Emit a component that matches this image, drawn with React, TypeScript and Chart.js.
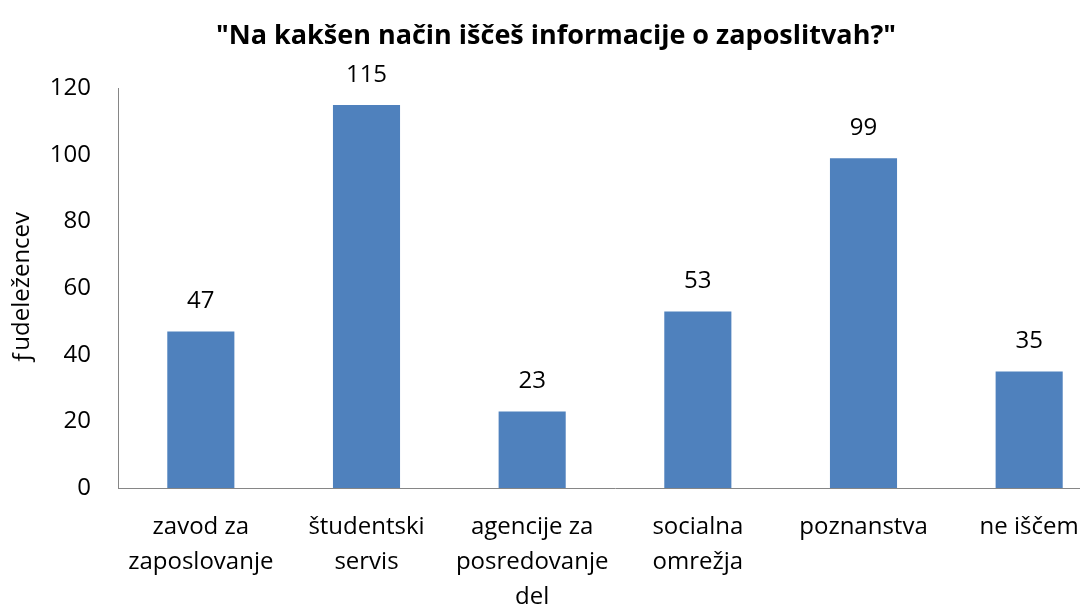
import React, { useEffect, useRef } from "react";
import { Chart, registerables } from "chart.js";

Chart.register(...registerables);

const categories: string[][] = [
  ["zavod za", "zaposlovanje"],
  ["študentski", "servis"],
  ["agencije za", "posredovanje", "del"],
  ["socialna", "omrežja"],
  ["poznanstva"],
  ["ne iščem"],
];
const values: number[] = [47, 115, 23, 53, 99, 35];
const yTicks = { min: 0, max: 120, step: 20 };
const titleText = '"Na kakšen način iščeš informacije o zaposlitvah?"';
const yTitle = "ƒudeležencev";

const FONT = "'Open Sans', Lato, sans-serif";
const SIZE = 24;

const dataLabels = {
  id: "dataLabels",
  afterDatasetsDraw(chart: any) {
    const ctx = chart.ctx;
    const meta = chart.getDatasetMeta(0);
    ctx.save();
    ctx.font = `${SIZE}px ${FONT}`;
    ctx.fillStyle = "#000";
    ctx.textAlign = "center";
    ctx.textBaseline = "middle";
    meta.data.forEach((bar: any, i: number) => {
      ctx.fillText(String(values[i]), bar.x, bar.y - 30);
    });
    ctx.restore();
  },
};

export default function App() {
  const ref = useRef<HTMLCanvasElement>(null);
  useEffect(() => {
    if (!ref.current) return;
    const chart = new Chart(ref.current, {
      type: "bar",
      data: {
        labels: categories,
        datasets: [
          {
            data: values,
            backgroundColor: "#4F81BD",
            borderWidth: 0,
            categoryPercentage: 1,
            barPercentage: 0.405,
          },
        ],
      },
      options: {
        animation: false,
        responsive: false,
        maintainAspectRatio: false,
        layout: { padding: 0 },
        plugins: {
          legend: { display: false },
          tooltip: { enabled: false },
          title: {
            display: true,
            text: titleText,
            color: "#000",
            font: { family: FONT, size: 27, weight: "bold", lineHeight: 1.2 },
            padding: { top: 20, bottom: 36 },
          },
        },
        scales: {
          x: {
            grid: { display: false, drawTicks: false },
            border: { display: true, color: "#868686", width: 1 },
            ticks: {
              color: "#000",
              font: { family: FONT, size: SIZE, lineHeight: 1.46 },
              padding: 22,
              autoSkip: false,
              maxRotation: 0,
              minRotation: 0,
            },
            afterFit(scale: any) {
              scale.height = 122;
            },
          },
          y: {
            min: yTicks.min,
            max: yTicks.max,
            grid: { display: false, drawTicks: false },
            border: { display: true, color: "#868686", width: 1 },
            ticks: {
              stepSize: yTicks.step,
              color: "#000",
              font: { family: FONT, size: SIZE },
              padding: 27,
            },
            title: {
              display: true,
              text: yTitle,
              color: "#000",
              font: { family: FONT, size: SIZE },
              padding: { top: 8, bottom: 0 },
            },
            afterFit(scale: any) {
              scale.width = 118;
            },
          },
        },
      },
      plugins: [dataLabels],
    });
    return () => chart.destroy();
  }, []);
  return (
    <div
      style={{
        position: "fixed",
        left: 0,
        top: 0,
        width: 1080,
        height: 610,
        overflow: "hidden",
        background: "#fff",
      }}
    >
      <canvas ref={ref} width={1112} height={610} style={{ display: "block" }} />
    </div>
  );
}
